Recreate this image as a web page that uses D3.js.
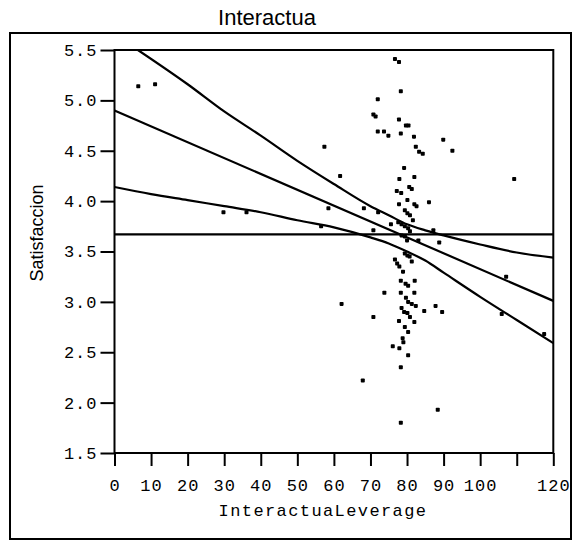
<!DOCTYPE html>
<head>
  <title>Interactua</title>
  <style>
    body { margin: 0; background: #fff; }
  </style>
</head>
<body>
  <script src="https://cdn.jsdelivr.net/npm/d3@7"></script>
  <script>
    // points: leverage (x) and satisfaccion (y)
    var leverage = [76.7, 77.8, 78.3, 72.0, 70.8, 71.4, 77.8, 79.7, 80.4, 72.0,
      73.7, 74.9, 78.3, 81.9, 57.4, 82.4, 83.3, 84.3, 89.9, 92.4,
      79.2, 6.5, 11.1, 61.7, 77.9, 82.0, 109.3, 80.6, 81.3, 77.2,
      78.4, 80.1, 77.8, 82.0, 82.6, 86.0, 79.4, 80.1, 80.8, 81.6,
      58.5, 68.2, 72.1, 29.8, 36.1, 75.6, 77.6, 78.5, 79.4, 80.3,
      80.8, 56.5, 70.8, 87.2, 78.5, 79.4, 80.0, 83.1, 88.8, 79.4,
      80.1, 80.7, 76.7, 77.3, 77.9, 81.3, 78.9, 78.3, 79.6, 80.3,
      82.1, 107.1, 73.8, 78.3, 82.0, 79.7, 80.3, 81.3, 82.4, 62.1,
      78.5, 79.2, 80.1, 70.8, 80.8, 82.0, 77.8, 87.8, 89.6, 84.7,
      105.9, 79.4, 80.3, 78.8, 79.0, 76.1, 77.9, 80.3, 78.3, 67.9,
      88.4, 78.3, 117.5];
    var satisfaccion = [5.41, 5.38, 5.09, 5.01, 4.86, 4.84, 4.81, 4.75, 4.75, 4.69,
      4.69, 4.65, 4.67, 4.64, 4.54, 4.54, 4.49, 4.47, 4.61, 4.50,
      4.33, 5.14, 5.16, 4.25, 4.22, 4.24, 4.22, 4.14, 4.12, 4.10,
      4.08, 4.01, 3.97, 3.97, 3.95, 3.99, 3.91, 3.88, 3.86, 3.81,
      3.93, 3.93, 3.89, 3.89, 3.89, 3.77, 3.79, 3.77, 3.75, 3.73,
      3.70, 3.75, 3.71, 3.71, 3.66, 3.65, 3.61, 3.61, 3.59, 3.48,
      3.46, 3.45, 3.42, 3.38, 3.35, 3.40, 3.30, 3.21, 3.18, 3.16,
      3.21, 3.25, 3.09, 3.09, 3.09, 3.04, 3.00, 2.98, 2.96, 2.98,
      2.94, 2.90, 2.89, 2.85, 2.85, 2.80, 2.81, 2.96, 2.90, 2.91,
      2.88, 2.75, 2.70, 2.64, 2.60, 2.56, 2.54, 2.47, 2.35, 2.22,
      1.93, 1.80, 2.68];

    // fit line, mean line and confidence curves
    var fitX = [0, 120], fitY = [4.90, 3.01];
    var meanX = [0, 120], meanY = [3.67, 3.67];
    var upperX = [6.4, 20, 30, 40, 50, 60, 70, 75, 80, 85, 90, 100, 110, 120];
    var upperY = [5.50, 5.16, 4.89, 4.65, 4.40, 4.17, 3.95, 3.86, 3.77, 3.71, 3.66, 3.57, 3.49, 3.44];
    var lowerX = [0, 10, 20, 30, 40, 50, 60, 70, 75, 80, 85, 90, 100, 110, 120];
    var lowerY = [4.14, 4.07, 4.01, 3.95, 3.89, 3.81, 3.74, 3.64, 3.58, 3.50, 3.41, 3.29, 3.05, 2.82, 2.59];

    var xTicks = [0, 10, 20, 30, 40, 50, 60, 70, 80, 90, 100, 110, 120];
    var xTickLabels = ["0", "10", "20", "30", "40", "50", "60", "70", "80", "90", "100", "", "120"];
    var yTicks = [1.5, 2.0, 2.5, 3.0, 3.5, 4.0, 4.5, 5.0, 5.5];

    var width = 572, height = 543;
    var margin = {top: 50, right: 18.7, bottom: 90, left: 114.5};

    var svg = d3.select("body")
      .append("svg")
      .attr("width", width)
      .attr("height", height);

    // outer box
    svg.append("rect")
      .attr("x", 10).attr("y", 33)
      .attr("width", 561).attr("height", 506)
      .attr("fill", "none")
      .attr("stroke", "#000")
      .attr("stroke-width", 2);

    svg.append("text")
      .attr("x", 267).attr("y", 25)
      .attr("text-anchor", "middle")
      .style("font-family", "Liberation Sans, Arial")
      .style("font-size", "22px")
      .text("Interactua");

    var xScale = d3.scaleLinear().domain([0, 120]).range([margin.left, width - margin.right]),
        yScale = d3.scaleLinear().domain([1.5, 5.5]).range([height - margin.bottom, margin.top]);

    svg.append("defs").append("clipPath").attr("id", "plotclip")
      .append("rect")
      .attr("x", xScale(0)).attr("y", yScale(5.5))
      .attr("width", xScale(120) - xScale(0))
      .attr("height", yScale(1.5) - yScale(5.5));

    // axes
    var xAxis = svg.append("g")
      .attr("transform", "translate(0," + yScale(1.5) + ")")
      .call(d3.axisBottom(xScale)
        .tickValues(xTicks)
        .tickFormat(function (d, i) { return xTickLabels[i]; })
        .tickSize(13)
        .tickPadding(13));

    var yAxis = svg.append("g")
      .attr("transform", "translate(" + xScale(0) + ",0)")
      .call(d3.axisLeft(yScale)
        .tickValues(yTicks)
        .tickFormat(d3.format(".1f"))
        .tickSize(14)
        .tickPadding(3));

    [xAxis, yAxis].forEach(function (a) {
      a.select(".domain").remove();
      a.selectAll("line").attr("stroke", "#000").attr("stroke-width", 2);
      a.selectAll("text")
        .attr("fill", "#000")
        .style("font-family", "Liberation Mono, Courier New, monospace")
        .style("font-size", "17px")
        .style("letter-spacing", "1px");
    });

    // plot frame
    svg.append("rect")
      .attr("x", xScale(0)).attr("y", yScale(5.5))
      .attr("width", xScale(120) - xScale(0))
      .attr("height", yScale(1.5) - yScale(5.5))
      .attr("fill", "none")
      .attr("stroke", "#000")
      .attr("stroke-width", 2);

    svg.append("text")
      .attr("x", 323).attr("y", 516)
      .attr("text-anchor", "middle")
      .style("font-family", "Liberation Mono, Courier New, monospace")
      .style("font-size", "17px")
      .style("letter-spacing", "1.4px")
      .text("InteractuaLeverage");

    svg.append("text")
      .attr("transform", "translate(43,233)rotate(-90)")
      .attr("text-anchor", "middle")
      .style("font-family", "Liberation Sans, Arial")
      .style("font-size", "18px")
      .text("Satisfaccion");

    // lines
    var lines = svg.append("g").attr("clip-path", "url(#plotclip)");
    function addLine(xs, ys) {
      var pts = xs.map(function (d, i) { return [d, ys[i]]; });
      var line = d3.line()
        .x(function (d) { return xScale(d[0]); })
        .y(function (d) { return yScale(d[1]); })
        .curve(d3.curveMonotoneX);
      lines.append("path")
        .attr("fill", "none")
        .attr("stroke", "#000")
        .attr("stroke-width", 2.2)
        .attr("d", line(pts));
    }
    addLine(meanX, meanY);
    addLine(fitX, fitY);
    addLine(upperX, upperY);
    addLine(lowerX, lowerY);

    // points
    svg.append("g").selectAll("rect")
      .data(d3.range(leverage.length))
      .enter()
      .append("rect")
      .attr("x", function (i) { return xScale(leverage[i]) - 2; })
      .attr("y", function (i) { return yScale(satisfaccion[i]) - 2; })
      .attr("width", 4)
      .attr("height", 4)
      .attr("rx", 0.8)
      .attr("fill", "#000");
  </script>
</body>
